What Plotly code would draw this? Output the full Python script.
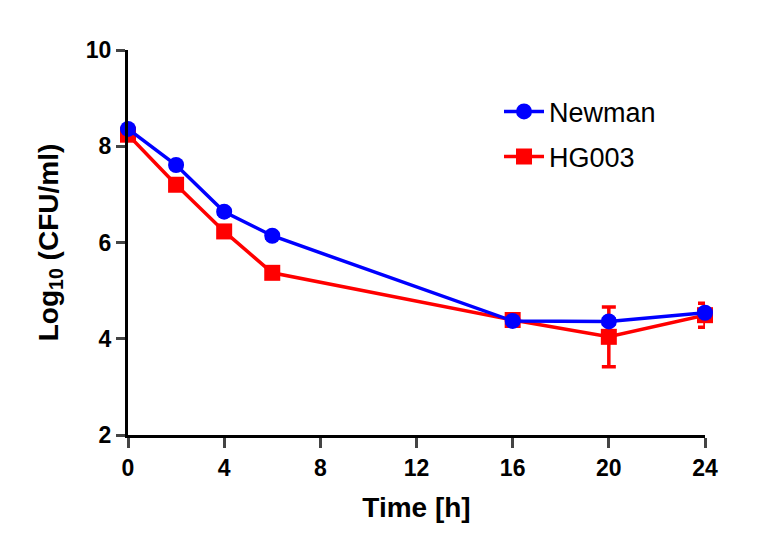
import plotly.graph_objects as go

time_h = [0, 2, 4, 6, 16, 20, 24]
newman = [8.36, 7.61, 6.64, 6.14, 4.37, 4.36, 4.54]
newman_err = [0.05, 0.05, 0.05, 0.05, 0.05, 0.05, 0.05]
hg003 = [8.24, 7.20, 6.23, 5.37, 4.39, 4.04, 4.49]
hg003_err = [0.05, 0.05, 0.05, 0.05, 0.1, 0.62, 0.25]

x_ticks = [0, 4, 8, 12, 16, 20, 24]
y_ticks = [2, 4, 6, 8, 10]

font_family = "Liberation Sans, Arial, sans-serif"

fig = go.Figure()
fig.add_trace(go.Scatter(
    x=time_h, y=hg003, name="HG003", mode="lines+markers",
    line=dict(color="#ff0000", width=3.5),
    marker=dict(symbol="square", size=16, color="#ff0000"),
    error_y=dict(type="data", array=hg003_err, color="#ff0000", thickness=3.5, width=7),
    cliponaxis=False, legendrank=2, legendgroup="b",
))
fig.add_trace(go.Scatter(
    x=time_h, y=newman, name="Newman", mode="lines+markers",
    line=dict(color="#0000ff", width=3.5),
    marker=dict(symbol="circle", size=16, color="#0000ff"),
    error_y=dict(type="data", array=newman_err, color="#0000ff", thickness=3.5, width=7),
    cliponaxis=False, legendrank=1, legendgroup="a",
))

fig.update_layout(
    width=782, height=550,
    margin=dict(l=128, r=77, t=50, b=115),
    paper_bgcolor="white", plot_bgcolor="white",
    font=dict(family=font_family, color="black"),
    showlegend=True,
    legend=dict(x=0.643, y=0.903, xanchor="left", yanchor="top",
                font=dict(size=27, family=font_family), bgcolor="rgba(0,0,0,0)",
                itemwidth=40, tracegroupgap=7),
)
fig.update_xaxes(
    range=[0, 24], tickvals=x_ticks, ticks="outside", ticklen=10, tickwidth=3,
    showline=True, linewidth=3, linecolor="black", showgrid=False, zeroline=False,
    tickfont=dict(size=23, family=font_family, weight="bold"),
    title=dict(text="Time [h]", font=dict(size=28, family=font_family, weight="bold"), standoff=18),
)
fig.update_yaxes(
    range=[2, 10], tickvals=y_ticks, ticks="outside", ticklen=9, tickwidth=3,
    showline=True, linewidth=3, linecolor="black", showgrid=False, zeroline=False,
    tickfont=dict(size=23, family=font_family, weight="bold"),
    title=dict(text="Log<sub>10</sub> (CFU/ml)", font=dict(size=28, family=font_family, weight="bold"), standoff=20),
)

fig.write_html("out.html")
